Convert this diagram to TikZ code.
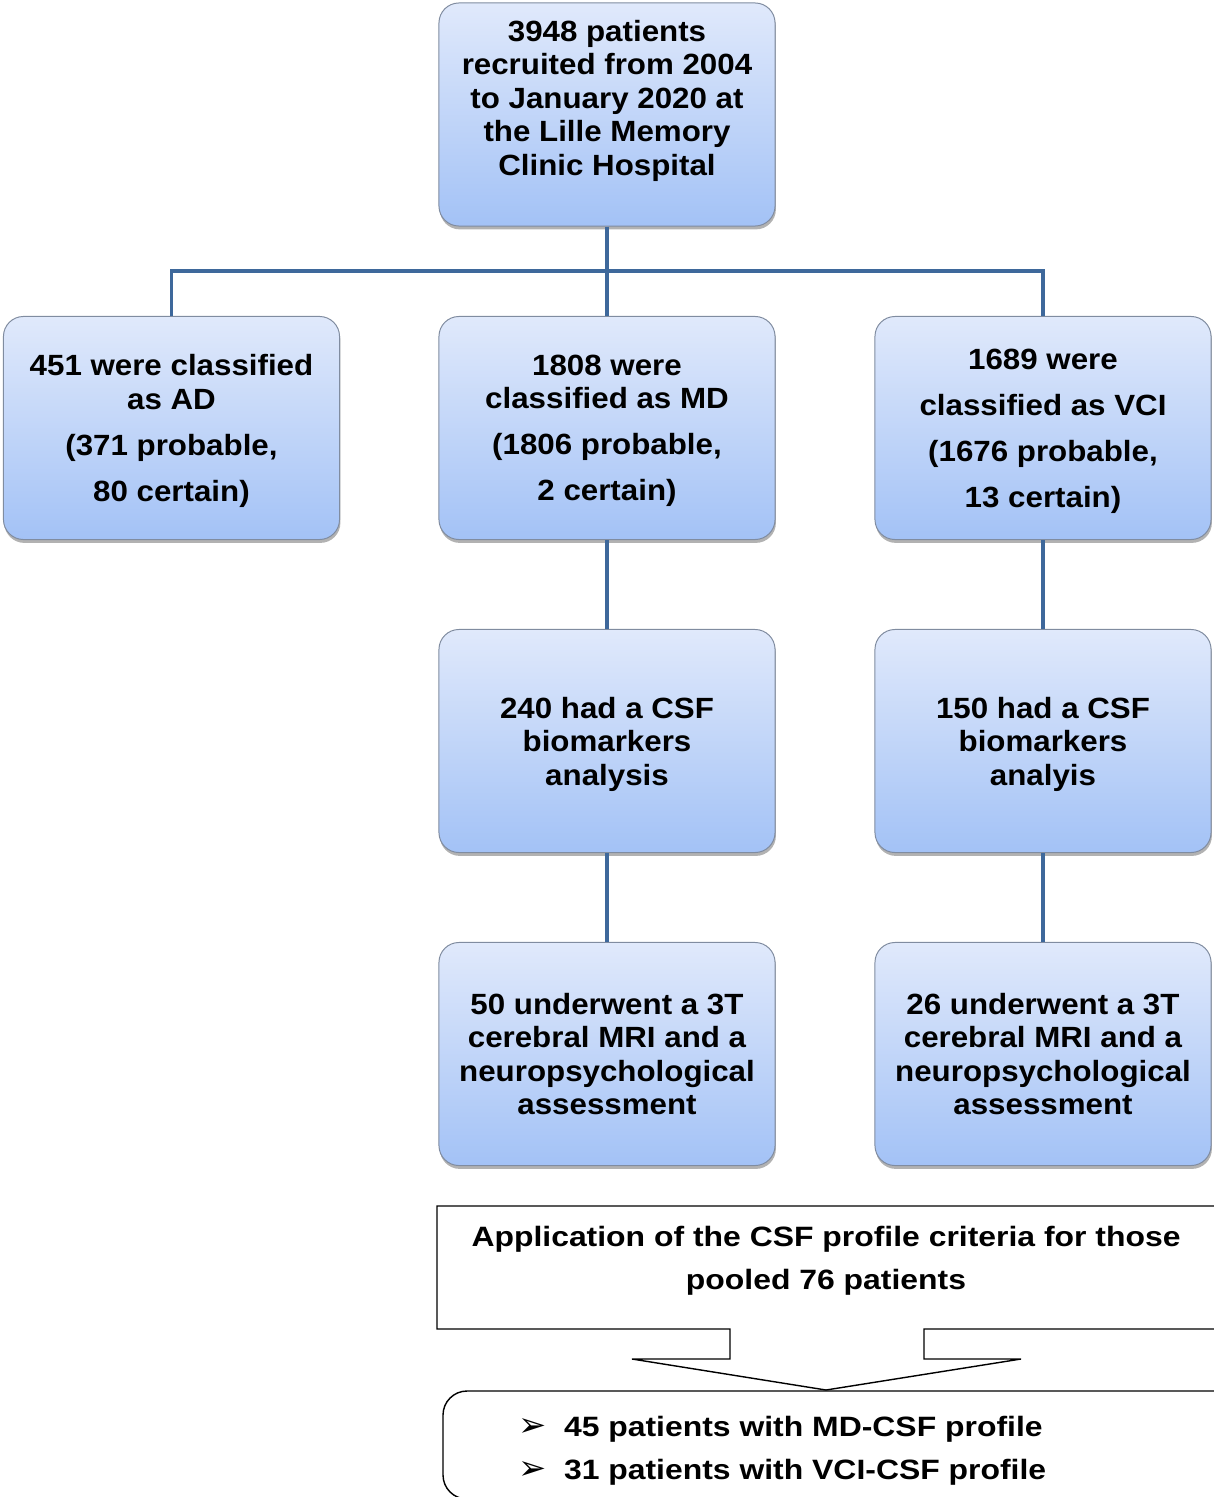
\documentclass[tikz,border=0pt]{standalone}
\usepackage{fontspec}
\setsansfont{Liberation Sans}[FakeStretch=1.07]
\newfontfamily\widefont{Liberation Sans}[FakeStretch=1.14]
\newfontfamily\symfont{DejaVu Sans}
\usetikzlibrary{shadows}

\begin{document}
\begin{tikzpicture}[
  x=0.025cm, y=-0.025cm,
  font=\sffamily\bfseries,
  box/.style={rounded corners=0.5cm,draw=boxedge,line width=.7pt,
    top color=boxtop,bottom color=boxbot,
    minimum width=8.4cm,minimum height=5.575cm,inner sep=2pt,align=center,
    font=\sffamily\bfseries\fontsize{20.8}{23.8}\selectfont,
    drop shadow={shadow xshift=.6pt,shadow yshift=-2.4pt,fill=black,opacity=.3}},
  link/.style={draw=linkblue,line width=2.8pt},
  plain/.style={draw=black,line width=1pt},
  note/.style={font=\widefont\bfseries\fontsize{19.9}{30.5}\selectfont,align=center}
]

\definecolor{boxtop}{RGB}{224,233,251}
\definecolor{boxbot}{RGB}{163,194,246}
\definecolor{boxedge}{RGB}{128,140,160}
\definecolor{linkblue}{RGB}{62,104,155}

\useasboundingbox (0,0) rectangle (1213,1497);

% recruitment
\node[box,text depth=0.85cm] (recruit) at (607,114.5)
  {3948 patients\\recruited from 2004\\to January 2020 at\\the Lille Memory\\Clinic Hospital};

% diagnoses
\node[box,text depth=0pt] (ad) at (171.5,428)
  {451 were classified\\as AD\\[8.9pt](371 probable,\\[8.9pt]80 certain)};
\node[box,text depth=0pt] (md) at (607,428)
  {1808 were\\classified as MD\\[8.9pt](1806 probable,\\[8.9pt]2 certain)};
\node[box,text depth=0pt] (vci) at (1043,428)
  {1689 were\\[8.9pt]classified as VCI\\[8.9pt](1676 probable,\\[8.9pt]13 certain)};

% CSF analysis
\node[box,text depth=0pt] (csfmd) at (607,741) {240 had a CSF\\biomarkers\\analysis};
\node[box,text depth=0pt] (csfvci) at (1043,741) {150 had a CSF\\biomarkers\\analyis};

% MRI
\node[box] (mrimd) at (607,1054)
  {50 underwent a 3T\\cerebral MRI and a\\neuropsychological\\assessment};
\node[box] (mrivci) at (1043,1054)
  {26 underwent a 3T\\cerebral MRI and a\\neuropsychological\\assessment};

\draw[link] (recruit.south) -- (md.north);
\draw[link] (ad.north) -- ++(0,-45) -| (vci.north);
\draw[link] (md) -- (csfmd);
\draw[link] (csfmd) -- (mrimd);
\draw[link] (vci) -- (csfvci);
\draw[link] (csfvci) -- (mrivci);

% pooled criteria and result
\draw[plain] (730,1359) -- (730,1329) -- (437,1329) -- (437,1206) -- (1240,1206)
  -- (1240,1329) -- (924,1329) -- (924,1359) -- (1021,1359) -- (826,1390)
  -- (632,1359) -- cycle;
\node[note] (criteria) at (826,1261)
  {Application of the CSF profile criteria for those\\pooled 76 patients};

\draw[plain,rounded corners=0.6cm] (1260,1391) -- (443,1391) -- (443,1499) -- (1260,1499);
\node[note,align=left,anchor=west] (profiles) at (514,1450.5)
  {{\symfont\mdseries\fontsize{24}{24}\selectfont ➢}\hspace{0.42cm}45 patients with MD-CSF profile\\
   {\symfont\mdseries\fontsize{24}{24}\selectfont ➢}\hspace{0.42cm}31 patients with VCI-CSF profile};

\end{tikzpicture}
\end{document}
